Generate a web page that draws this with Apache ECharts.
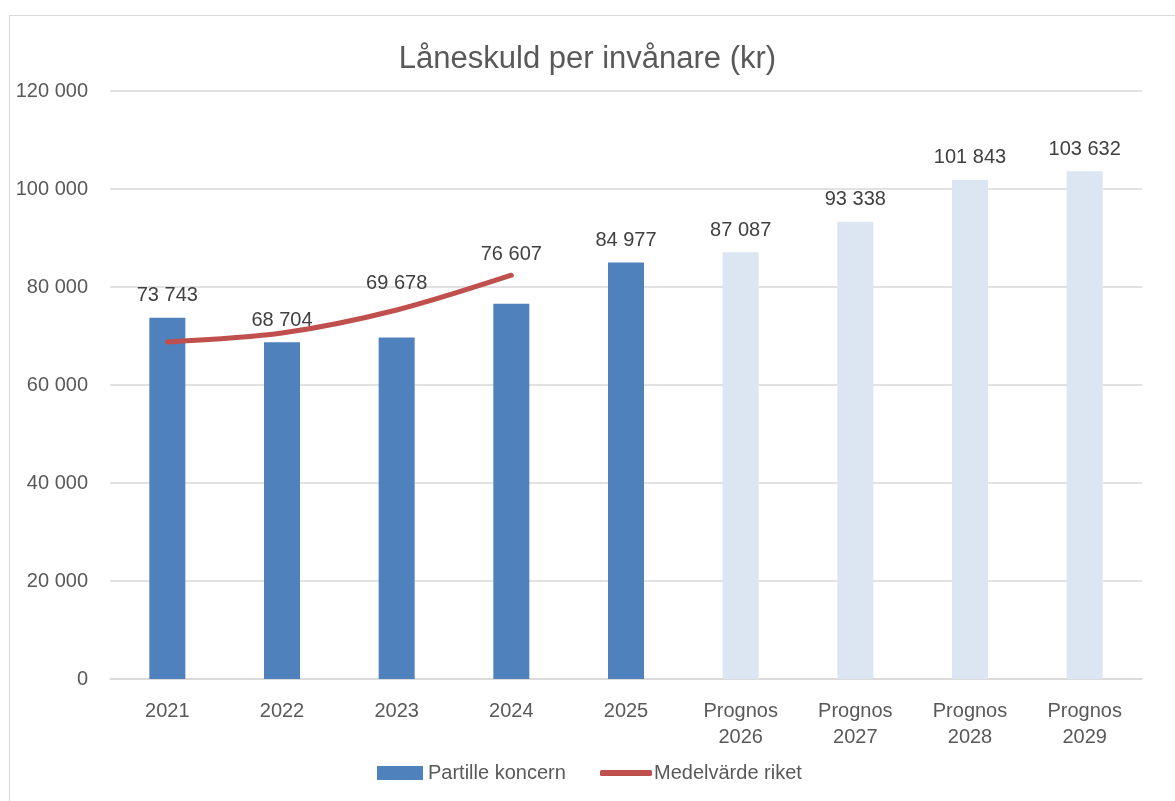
<!DOCTYPE html>
<html>
<head>
<meta charset="utf-8">
<script src="https://cdn.jsdelivr.net/npm/echarts@6/dist/echarts.min.js"></script>
<style>
html,body{margin:0;padding:0;background:#fff;}
#frame{position:absolute;left:9px;top:15px;width:1175px;height:800px;border-left:1px solid #d9d9d9;border-top:1px solid #d9d9d9;}
#chart{position:absolute;left:0;top:0;width:1175px;height:801px;}
</style>
</head>
<body>
<div id="frame"></div>
<div id="chart"></div>
<script>
const categories = ["2021","2022","2023","2024","2025","Prognos\n2026","Prognos\n2027","Prognos\n2028","Prognos\n2029"];
const partilleValues = [73743, 68704, 69678, 76607, 84977, 87087, 93338, 101843, 103632];
const forecastFlags = [false, false, false, false, false, true, true, true, true];
const rikeValues = [68800, 70600, 75300, 82400, null, null, null, null, null];
const yTicks = [0, 20000, 40000, 60000, 80000, 100000, 120000];

const fmt = v => String(v).replace(/\B(?=(\d{3})+(?!\d))/g, ' ');
const FONT = '"Liberation Sans", Arial, sans-serif';
// labels lifted above the red line, as in the original
const labelLift = { 2: -32, 3: -27 };

const chart = echarts.init(document.getElementById('chart'));
chart.setOption({
  animation: false,
  backgroundColor: 'transparent',
  title: {
    text: 'Låneskuld per invånare (kr)',
    left: 'center', top: 39,
    textStyle: { fontFamily: FONT, fontSize: 31, fontWeight: 'normal', color: '#595959' }
  },
  legend: [
    {
      bottom: 18, left: 377, padding: 0,
      itemWidth: 46, itemHeight: 14, itemGap: 10,
      textStyle: { fontFamily: FONT, fontSize: 20, color: '#595959', padding: [0, 0, 0, 0] },
      data: [{ name: 'Partille koncern', icon: 'rect' }]
    },
    {
      bottom: 18, left: 600, padding: 0,
      itemWidth: 52, itemHeight: 6, itemGap: 10,
      textStyle: { fontFamily: FONT, fontSize: 20, color: '#595959', padding: [0, 0, 0, -3] },
      data: [{ name: 'Medelvärde riket', icon: 'roundRect' }]
    }
  ],
  grid: { left: 110, right: 33, top: 91, bottom: 122, containLabel: false },
  xAxis: {
    type: 'category',
    data: categories,
    axisLine: { lineStyle: { color: '#d9d9d9', width: 1.5 } },
    axisTick: { show: false },
    axisLabel: { fontFamily: FONT, fontSize: 20, color: '#595959', margin: 19, lineHeight: 26 }
  },
  yAxis: {
    type: 'value',
    min: yTicks[0], max: yTicks[yTicks.length - 1], interval: 20000,
    axisLine: { show: false },
    axisTick: { show: false },
    splitLine: { lineStyle: { color: '#d9d9d9', width: 1.5 } },
    axisLabel: { fontFamily: FONT, fontSize: 20, color: '#595959', margin: 22, formatter: v => fmt(v) }
  },
  series: [
    {
      name: 'Partille koncern',
      type: 'bar',
      barWidth: 36,
      itemStyle: { color: '#4F81BD' },
      data: partilleValues.map((v, i) => {
        const d = { value: v, itemStyle: { color: forecastFlags[i] ? '#DCE6F2' : '#4F81BD' } };
        if (labelLift[i]) d.label = { offset: [0, labelLift[i]] };
        return d;
      }),
      label: {
        show: true, position: 'top', distance: 12,
        fontFamily: FONT, fontSize: 20, color: '#404040',
        formatter: p => fmt(p.value)
      },
      z: 2
    },
    {
      name: 'Medelvärde riket',
      type: 'line',
      data: rikeValues,
      smooth: 0.3,
      showSymbol: false,
      symbol: 'none',
      lineStyle: { color: '#C0504D', width: 5, cap: 'round' },
      itemStyle: { color: '#C0504D' },
      z: 3
    }
  ]
});
</script>
</body>
</html>
